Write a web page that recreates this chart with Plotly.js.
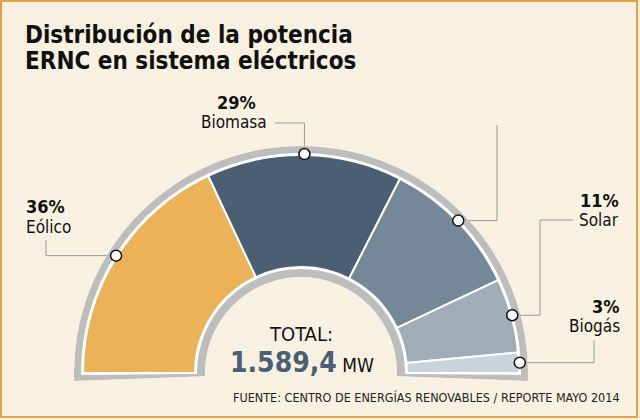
<!DOCTYPE html>
<html>
<head>
<meta charset="utf-8">
<script src="https://cdn.plot.ly/plotly-3.0.1.min.js"></script>
<style>
html,body{margin:0;padding:0;background:#F8F1E2;}
#chart{width:640px;height:420px;}
</style>
</head>
<body>
<div id="chart"></div>
<script>
// ---------------- DATA ----------------
const categories = ['Eólico', 'Biomasa', 'Mini hidro', 'Solar', 'Biogás'];
const shares = [36, 29, 21, 11, 3];            // % of ERNC power
const labelShown = [true, true, false, true, true];
const totalMW = 1589.4;
const titleLines = ['Distribución de la potencia', 'ERNC en sistema eléctricos'];
const sourceText = 'FUENTE: CENTRO DE ENERGÍAS RENOVABLES / REPORTE MAYO 2014';

// ---------------- STYLE / GEOMETRY ----------------
const W = 640, H = 420;
const BG = '#F8F1E2';
const colors = ['#ECB258', '#4A5F73', '#748899', '#A0ACB8', '#C9D3DC'];
const cx = 301, cy = 373;        // center of half donut (px)
const R = 227;                   // outer radius of grey frame
const rFillOut = 218, rFillIn = 106, rGrayIn = 96, rWhiteIn = 104, rWhiteOut = 220;
const ext = 2;                   // grey frame extends below the baseline (deg)
const rDot = 219;

// leader routes (layout): sequence of moves from the dot
const routes = [
  [['x', 46], ['y', 240]],
  [['y', 123], ['x', 275]],
  [['x', 497], ['y', 125]],
  [['x', 540], ['y', 220], ['x', 573]],
  [['x', 594], ['y', 340]]
];
// label placement (layout)
const labelPos = [
  {x: 25,  anchor: 'left',  pctX: 25,  pctAnchor: 'left',   pctBase: 213, nameBase: 233},
  {x: 268, anchor: 'right', pctX: 236, pctAnchor: 'center', pctBase: 109, nameBase: 128},
  null,
  {x: 620, anchor: 'right', pctX: 620, pctAnchor: 'right',  pctBase: 207, nameBase: 226},
  {x: 621, anchor: 'right', pctX: 621, pctAnchor: 'right',  pctBase: 313, nameBase: 332}
];

const FONT = '"DejaVu Sans Condensed", "DejaVu Sans", sans-serif';

// ---------------- DERIVED ----------------
const scale = 180 / shares.reduce((a, b) => a + b, 0);
const widths = shares.map(s => s * scale);
const mids = [];
let acc = 0;
shares.forEach((s, i) => { mids.push((acc + s / 2) * scale); acc += s; });

function polarToPx(thetaDeg, r) {
  const a = (180 - thetaDeg) * Math.PI / 180;
  return [cx + r * Math.cos(a), cy - r * Math.sin(a)];
}

function fmtES(v) {
  const parts = v.toFixed(1).split('.');
  const intPart = parts[0].replace(/\B(?=(\d{3})+(?!\d))/g, '.');
  return intPart + ',' + parts[1];
}

// polar domain so that center = (cx,cy) and radius = R
const sinE = Math.sin(ext * Math.PI / 180);
const hPol = R * (1 + sinE);
const polarDomain = {
  x: [(cx - R) / W, (cx + R) / W],
  y: [(H - (cy - R) - hPol) / H, (H - (cy - R)) / H]
};

const traces = [];
// grey frame
traces.push({
  type: 'barpolar', subplot: 'polar',
  theta: [90], width: [180 + 2 * ext], base: [rGrayIn], r: [R - rGrayIn],
  marker: {color: '#BDBDBD', line: {width: 0}}, hoverinfo: 'skip', showlegend: false
});
// white band
traces.push({
  type: 'barpolar', subplot: 'polar',
  theta: [90], width: [180 + 1.0], base: [rWhiteIn], r: [rWhiteOut - rWhiteIn],
  marker: {color: '#FFFFFF', line: {width: 0}}, hoverinfo: 'skip', showlegend: false
});
// slices
traces.push({
  type: 'barpolar', subplot: 'polar',
  theta: mids, width: widths,
  base: shares.map(() => rFillIn), r: shares.map(() => rFillOut - rFillIn),
  text: categories,
  marker: {color: colors, line: {color: '#FFFFFF', width: 2}},
  hovertemplate: '%{text}<extra></extra>', showlegend: false
});

// leader lines (cartesian pixel space)
const dotPx = mids.map(m => polarToPx(m, rDot));
routes.forEach((route, i) => {
  let [x, y] = dotPx[i];
  const xs = [x], ys = [y];
  route.forEach(([k, v]) => { if (k === 'x') x = v; else y = v; xs.push(x); ys.push(y); });
  traces.push({
    type: 'scatter', xaxis: 'x', yaxis: 'y', mode: 'lines',
    x: xs, y: ys, line: {color: '#999999', width: 1},
    hoverinfo: 'skip', showlegend: false
  });
});

// dots
traces.push({
  type: 'scatterpolar', subplot: 'polar',
  theta: mids, r: mids.map(() => rDot), mode: 'markers',
  marker: {size: 11, color: '#FFFFFF', line: {color: '#111111', width: 1.5}},
  cliponaxis: false, hoverinfo: 'skip', showlegend: false
});

// ---------------- ANNOTATIONS ----------------
function ann(text, x, baseline, size, anchor, opts) {
  opts = opts || {};
  const refSize = opts.refSize || size;
  return {
    text: text, x: x, y: baseline - 0.346 * refSize, xref: 'x', yref: 'y',
    xanchor: anchor, yanchor: 'middle', showarrow: false, borderpad: 0,
    font: {family: FONT, size: size, color: opts.color || '#111111', weight: opts.bold ? 'bold' : 'normal'},
    align: anchor === 'center' ? 'center' : anchor
  };
}

const annotations = [];
annotations.push(ann(titleLines[0], 24, 43, 24, 'left', {bold: true}));
annotations.push(ann(titleLines[1], 24, 69, 24, 'left', {bold: true}));

categories.forEach((c, i) => {
  const p = labelPos[i];
  if (!labelShown[i] || !p) return;
  annotations.push(ann(shares[i] + '%', p.pctX, p.pctBase, 18, p.pctAnchor, {bold: true}));
  annotations.push(ann(c, p.x, p.nameBase, 17, p.anchor));
});

annotations.push(ann('TOTAL:', 301, 341, 20, 'center'));
annotations.push(ann('<span style="font-size:28px;color:#4A5F73"><b>' + fmtES(totalMW) + '</b></span> MW',
  302, 372, 19, 'center', {refSize: 28}));
annotations.push(ann(sourceText, 621, 402, 12.5, 'right', {color: '#222222'}));

const layout = {
  width: W, height: H,
  margin: {l: 0, r: 0, t: 0, b: 0, pad: 0},
  paper_bgcolor: BG, plot_bgcolor: 'rgba(0,0,0,0)',
  showlegend: false,
  xaxis: {range: [0, W], visible: false, fixedrange: true, domain: [0, 1]},
  yaxis: {range: [H, 0], visible: false, fixedrange: true, domain: [0, 1]},
  polar: {
    domain: polarDomain,
    sector: [-ext, 180 + ext],
    hole: rGrayIn / R,
    bgcolor: 'rgba(0,0,0,0)',
    radialaxis: {range: [rGrayIn, R], visible: false, showgrid: false, showline: false, showticklabels: false, ticks: ''},
    angularaxis: {rotation: 180, direction: 'clockwise', visible: false, showgrid: false, showline: false, showticklabels: false, ticks: ''},
    barmode: 'overlay'
  },
  annotations: annotations,
  shapes: [{type: 'rect', xref: 'x', yref: 'y', x0: 1, y0: 1, x1: 637, y1: 417,
            line: {color: '#E3A243', width: 2}, fillcolor: 'rgba(0,0,0,0)', layer: 'above'}]
};

Plotly.newPlot('chart', traces, layout, {displayModeBar: false, staticPlot: true});
</script>
</body>
</html>
